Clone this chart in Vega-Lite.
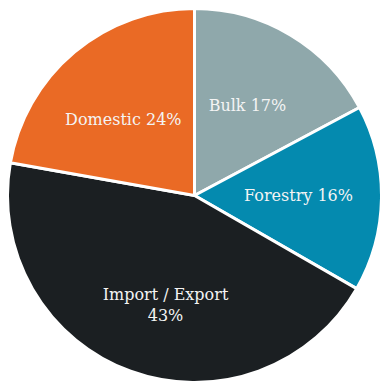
{
  "$schema": "https://vega.github.io/schema/vega-lite/v6.json",
  "autosize": {"type": "fit", "contains": "padding"},
  "width": 381,
  "height": 384,
  "padding": {"left": 8, "right": 0, "top": 7, "bottom": 0},
  "background": "white",
  "view": {"stroke": null},
  "data": {
    "values": [
      {"sector": "Bulk", "share": 17.2, "pct": 17, "order": 1, "label": ["Bulk 17%"]},
      {"sector": "Forestry", "share": 16.1, "pct": 16, "order": 2, "label": ["Forestry 16%"]},
      {"sector": "Import / Export", "share": 44.5, "pct": 43, "order": 3, "label": ["Import / Export", "43%"]},
      {"sector": "Domestic", "share": 22.2, "pct": 24, "order": 4, "label": ["Domestic 24%"]}
    ]
  },
  "layer": [
    {
      "mark": {"type": "arc", "outerRadius": 187, "stroke": "white", "strokeWidth": 3},
      "encoding": {
        "theta": {"field": "share", "type": "quantitative", "stack": true},
        "order": {"field": "order", "type": "quantitative"},
        "color": {
          "field": "sector",
          "type": "nominal",
          "scale": {
            "domain": ["Bulk", "Forestry", "Import / Export", "Domestic"],
            "range": ["#8fa8ab", "#048aaf", "#1b1f22", "#ea6a25"]
          },
          "legend": null
        }
      }
    },
    {
      "mark": {"type": "text", "radius": 104, "font": "DejaVu Serif", "fontSize": 16, "color": "#f4f4f4", "lineHeight": 21, "align": "center", "baseline": "middle"},
      "encoding": {
        "theta": {"field": "pct", "type": "quantitative", "stack": true},
        "order": {"field": "order", "type": "quantitative"},
        "text": {"field": "label", "type": "nominal"}
      }
    }
  ]
}
